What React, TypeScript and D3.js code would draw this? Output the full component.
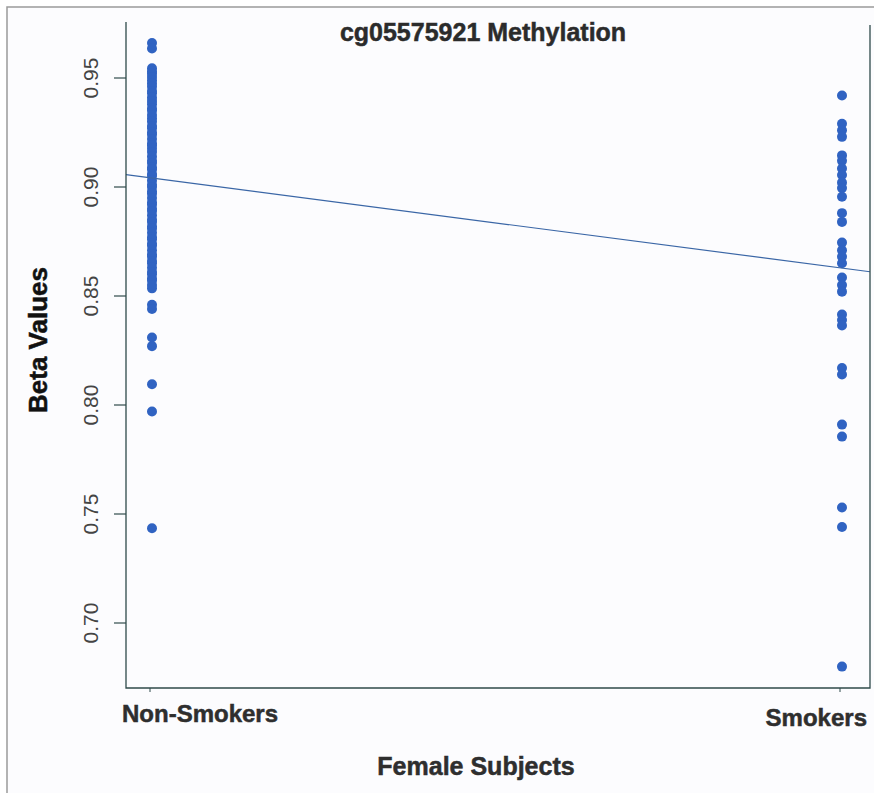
import * as d3 from "d3";

const categories = ["Non-Smokers", "Smokers"];

const nonSmokers = [
  0.966, 0.9635,
  0.9545, 0.953, 0.952, 0.9505, 0.949, 0.9475, 0.946, 0.944, 0.943, 0.941,
  0.9395, 0.938, 0.936, 0.935, 0.933, 0.9315, 0.930, 0.928, 0.927, 0.925,
  0.924, 0.922, 0.920, 0.919, 0.9175, 0.916, 0.914, 0.912, 0.911, 0.909,
  0.908, 0.906, 0.905, 0.903, 0.901, 0.900, 0.898, 0.897, 0.895, 0.893,
  0.892, 0.890, 0.889, 0.887, 0.885, 0.884, 0.882, 0.881, 0.879, 0.877,
  0.876, 0.874, 0.873, 0.871, 0.869, 0.868, 0.866, 0.865, 0.863, 0.861,
  0.860, 0.858, 0.857, 0.855, 0.8535,
  0.846, 0.844, 0.831, 0.827, 0.8095, 0.797, 0.7435,
];

const smokers = [
  0.942, 0.929, 0.926, 0.923, 0.9145, 0.912, 0.9085, 0.9055, 0.902, 0.8995,
  0.8955, 0.888, 0.884, 0.8745, 0.871, 0.868, 0.865, 0.8585, 0.855, 0.852,
  0.8415, 0.839, 0.8365, 0.817, 0.814, 0.791, 0.7855, 0.753, 0.744, 0.680,
];

const yTicks = [0.7, 0.75, 0.8, 0.85, 0.9, 0.95];

// fitted line (beta ~ smoking status)
const fitIntercept = 0.9041;
const fitSlope = -0.0413;

const groups = [nonSmokers, smokers];

export default function App() {
  const left = 126;
  const right = 870;
  const top = 25;
  const bottom = 688;

  const x = d3.scaleLinear().domain([0, 1]).range([152, 842]);
  const y = d3.scaleLinear().domain([0.7, 0.95]).range([623, 78]);

  const x0 = x.invert(left);
  const x1 = x.invert(right);
  const fitLine = d3
    .line<number>()
    .x((d) => x(d))
    .y((d) => y(fitIntercept + fitSlope * d))([x0, x1]);

  const font = "'Liberation Sans', Arial, sans-serif";
  const dot = "#3063c2";
  const axisCol = "#2f4a4a";
  const heavy = { stroke: "#2e2e2e", strokeWidth: 0.5 };

  return (
    <svg
      width={874}
      height={793}
      style={{ position: "absolute", left: 0, top: 0, background: "#fff" }}
      fontFamily={font}
    >
      <rect x={7} y={7} width={900} height={800} fill="#fcfcfe" stroke="#9a9a9a" strokeWidth={1.5} />

      {/* points */}
      {groups.map((vals, gi) =>
        vals.map((v, i) => (
          <circle key={`${gi}-${i}`} cx={x(gi)} cy={y(v)} r={5} fill={dot} />
        ))
      )}

      {/* fit line */}
      <path d={fitLine ?? ""} fill="none" stroke="#3a66a6" strokeWidth={1.2} />

      {/* axes: left, bottom, right */}
      <path
        d={`M${left},${top - 3}V${bottom}H${right}V${top}`}
        fill="none"
        stroke={axisCol}
        strokeWidth={1.3}
      />

      {yTicks.map((t) => (
        <g key={t}>
          <line x1={left - 12} x2={left} y1={y(t)} y2={y(t)} stroke={axisCol} strokeWidth={1.2} />
          <text
            transform={`translate(98,${y(t)}) rotate(-90)`}
            textAnchor="middle"
            fontSize={21}
            fill="#444"
          >
            {d3.format(".2f")(t)}
          </text>
        </g>
      ))}

      {categories.map((c, i) => (
        <line key={c} x1={x(i) - 2} x2={x(i) - 2} y1={bottom} y2={bottom + 4} stroke={axisCol} strokeWidth={1} />
      ))}

      <text x={122} y={722} fontSize={24} fontWeight="bold" fill="#2e2e2e" {...heavy}>
        {categories[0]}
      </text>
      <text x={867} y={726} fontSize={24} fontWeight="bold" fill="#2e2e2e" textAnchor="end" {...heavy}>
        {categories[1]}
      </text>

      <text x={483} y={41} fontSize={25} fontWeight="bold" fill="#2b2b2b" textAnchor="middle" {...heavy}>
        cg05575921 Methylation
      </text>
      <text x={476} y={775} fontSize={25} fontWeight="bold" fill="#2e2e2e" textAnchor="middle" {...heavy}>
        Female Subjects
      </text>
      <text
        transform="translate(47,340) rotate(-90)"
        textAnchor="middle"
        fontSize={26}
        fontWeight="bold"
        fill="#111"
        stroke="#111"
        strokeWidth={0.5}
      >
        Beta Values
      </text>
    </svg>
  );
}
